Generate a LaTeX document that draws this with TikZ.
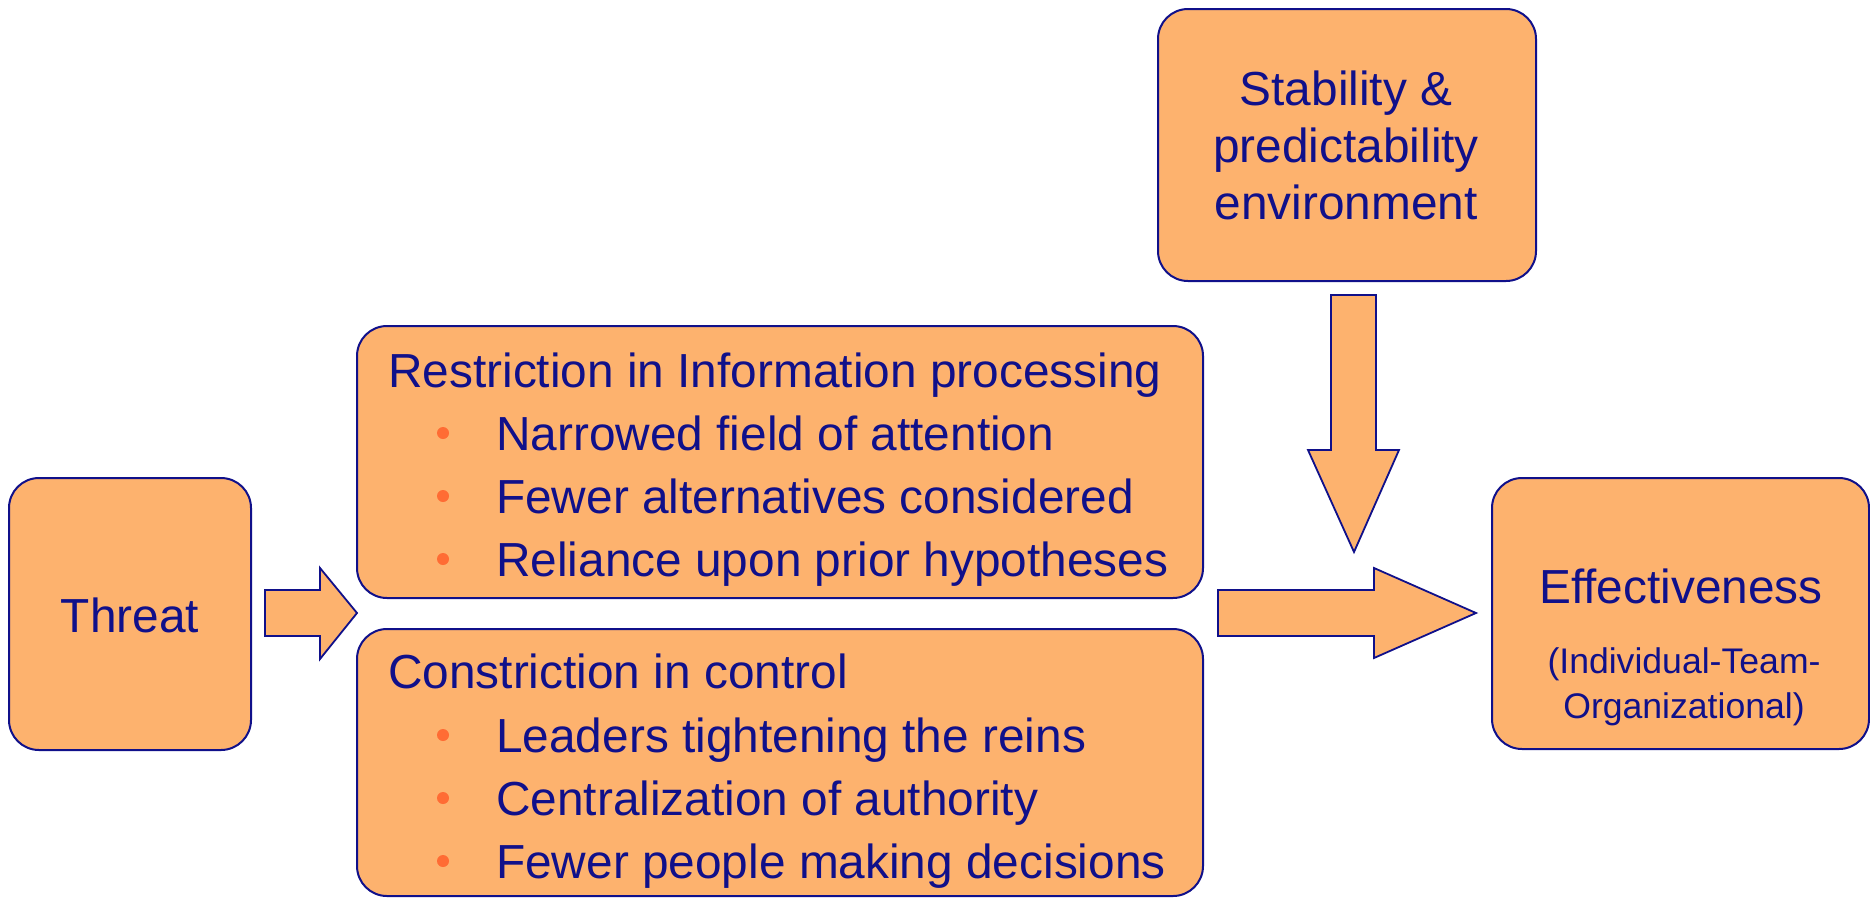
\documentclass[tikz,border=0pt]{standalone}
\usepackage{fontspec}
\setmainfont{Liberation Sans}
\definecolor{boxfill}{RGB}{253,178,110}
\definecolor{navy}{RGB}{16,16,138}
\definecolor{bul}{RGB}{255,108,52}
\begin{document}
\begin{tikzpicture}[x=1pt,y=-1pt,
  box/.style={draw=navy, line width=2pt, fill=boxfill, rounded corners=30pt, inner sep=0pt, anchor=north west},
  blockarrow/.style={draw=navy, line width=1.8pt, fill=boxfill, line join=miter},
  txt/.style={text=navy, font=\fontsize{47.8}{57}\selectfont, inner sep=0pt, anchor=base west},
  ctxt/.style={text=navy, font=\fontsize{47.8}{57}\selectfont, inner sep=0pt, anchor=base},
  stxt/.style={text=navy, font=\fontsize{35.6}{43}\selectfont, inner sep=0pt, anchor=base},
  bullet/.style={circle, fill=bul, draw=none, minimum size=12pt, inner sep=0pt}]
\useasboundingbox (0,0) rectangle (1870,897);

% boxes
\node[box, minimum width=242pt, minimum height=272pt] (threat) at (8,477) {};
\node[box, minimum width=846pt, minimum height=272pt] (restr) at (356,325) {};
\node[box, minimum width=846pt, minimum height=267pt] (constr) at (356,628) {};
\node[box, minimum width=378pt, minimum height=272pt] (stab) at (1157,8) {};
\node[box, minimum width=377pt, minimum height=271pt] (eff) at (1491,477) {};

% block arrows
\draw[blockarrow] (265,590) -- (320,590) -- (320,568) -- (357,613) -- (320,659) -- (320,636) -- (265,636) -- cycle;
\draw[blockarrow] (1218,590) -- (1374,590) -- (1374,568) -- (1476,613) -- (1374,658) -- (1374,636) -- (1218,636) -- cycle;
\draw[blockarrow] (1331,295) -- (1376,295) -- (1376,450) -- (1399,450) -- (1354,552) -- (1308,450) -- (1331,450) -- cycle;

% texts
\node[ctxt] (tthreat) at (130,632) {Threat};

\node[ctxt] (ts1) at (1346,105) {Stability \&};
\node[ctxt] (ts2) at (1346,162) {predictability};
\node[ctxt] (ts3) at (1346,219) {environment};

\node[ctxt] (te1) at (1681,603) {Effectiveness};
\node[stxt] (te2) at (1684,673) {(Individual-Team-};
\node[stxt] (te3) at (1684,718) {Organizational)};

\node[txt] (r0) at (388,387) {Restriction in Information processing};
\node[txt] (r1) at (496,450) {Narrowed field of attention};
\node[txt] (r2) at (496,513) {Fewer alternatives considered};
\node[txt] (r3) at (496,576) {Reliance upon prior hypotheses};
\node[bullet] (rb1) at (443,433) {};
\node[bullet] (rb2) at (443,496) {};
\node[bullet] (rb3) at (443,559) {};

\node[txt] (c0) at (388,688) {Constriction in control};
\node[txt] (c1) at (496,752) {Leaders tightening the reins};
\node[txt] (c2) at (496,815) {Centralization of authority};
\node[txt] (c3) at (496,878) {Fewer people making decisions};
\node[bullet] (cb1) at (443,735) {};
\node[bullet] (cb2) at (443,798) {};
\node[bullet] (cb3) at (443,861) {};
\end{tikzpicture}
\end{document}
